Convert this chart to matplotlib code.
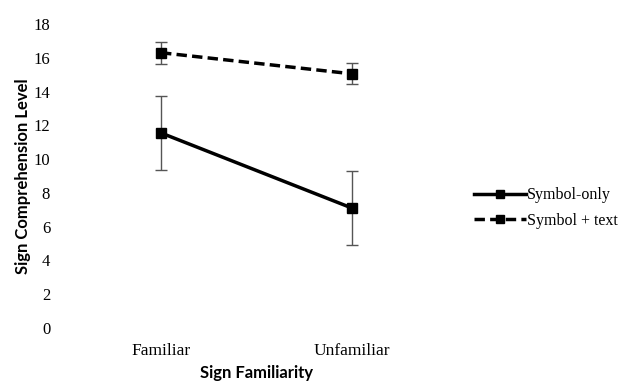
import matplotlib.pyplot as plt
import numpy as np

categories = ["Familiar", "Unfamiliar"]
symbol_only = [11.55, 7.1]
symbol_only_err = [2.2, 2.2]
symbol_text = [16.3, 15.05]
symbol_text_err = [0.65, 0.62]

serif = "Liberation Serif"
label_font = {"family": "Lato", "weight": "bold", "size": 12}

fig = plt.figure(figsize=(6.23, 3.82), dpi=100)
ax = fig.add_axes([65.5 / 623, 1 - 328 / 382, 382 / 623, 304 / 382])

x = np.arange(len(categories)) + 0.5
ax.errorbar(x, symbol_only, yerr=symbol_only_err, fmt="none",
            ecolor="#555555", elinewidth=1, capsize=4)
ax.errorbar(x, symbol_text, yerr=symbol_text_err, fmt="none",
            ecolor="#555555", elinewidth=1, capsize=4)
h1, = ax.plot(x, symbol_only, color="black", lw=2.5, marker="s", ms=7,
              label="Symbol-only")
h2, = ax.plot(x, symbol_text, color="black", lw=2.5, ls=(0, (3, 1.5)),
              marker="s", ms=7, label="Symbol + text")

ax.set_xlim(0, 2)
ax.set_ylim(0, 18)
ax.set_yticks(range(0, 19, 2))
ax.set_xticks(x)
ax.set_xticklabels(categories, fontfamily=serif, fontsize=12.5)
for t in ax.get_yticklabels():
    t.set_fontfamily(serif)
    t.set_fontsize(12)
ax.tick_params(axis="y", length=0, pad=11)
ax.tick_params(axis="x", length=0, pad=11)
for s in ax.spines.values():
    s.set_visible(False)

ax.set_xlabel("Sign Familiarity", fontdict=label_font, labelpad=4)
ax.set_ylabel("Sign Comprehension Level", fontdict=label_font, labelpad=2)

ax.legend(handles=[h1, h2], loc="center left", bbox_to_anchor=(1.033, 0.395),
          frameon=False, prop={"family": serif, "size": 11.5}, handlelength=3.25,
          handletextpad=0.05, labelspacing=0.6, markerscale=0.85)

fig.savefig("out.png", dpi=100)
